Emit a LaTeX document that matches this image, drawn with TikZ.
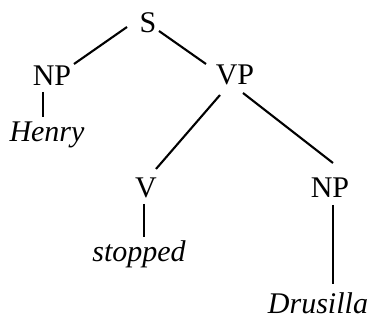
\documentclass[tikz,border=0pt]{standalone}
\usepackage{fontspec}
\setmainfont{Liberation Serif}
\usetikzlibrary{calc}
\begin{document}
\begin{tikzpicture}[x=1pt,y=-1pt,
  lab/.style={anchor=base,inner sep=0pt,font=\fontsize{30}{33}\selectfont},
  word/.style={lab,font=\fontsize{30}{33}\selectfont\itshape},
  edge/.style={line width=2.1pt,line cap=butt}]
\useasboundingbox (0,0) rectangle (376,320);
\node[lab]  (S)    at (148,33)  {S};
\node[lab]  (NPl)  at (52,86)   {NP};
\node[lab]  (VP)   at (235,85)  {VP};
\node[word] (Hen)  at (47,142)  {Henry};
\node[lab]  (V)    at (146,198) {V};
\node[lab]  (NPr)  at (330,198) {NP};
\node[word] (stop) at (139,262) {stopped};
\node[word] (Dru)  at (318,314) {Drusilla};
\draw[edge] ($(S.base)+(-21,-6)$) -- ($(NPl.base)+(22,-22)$);
\draw[edge] ($(S.base)+(11,-2)$) -- ($(VP.base)+(-29,-21)$);
\draw[edge] ($(NPl.base)+(-9,6)$) -- ($(Hen.base)+(-4,-25)$);
\draw[edge] ($(VP.base)+(-15,10)$) -- ($(V.base)+(10,-29)$);
\draw[edge] ($(VP.base)+(8,8)$) -- ($(NPr.base)+(3,-35)$);
\draw[edge] ($(V.base)+(-2,6)$) -- ($(stop.base)+(5,-25)$);
\draw[edge] ($(NPr.base)+(3,7)$) -- ($(Dru.base)+(15,-30)$);
\end{tikzpicture}
\end{document}
